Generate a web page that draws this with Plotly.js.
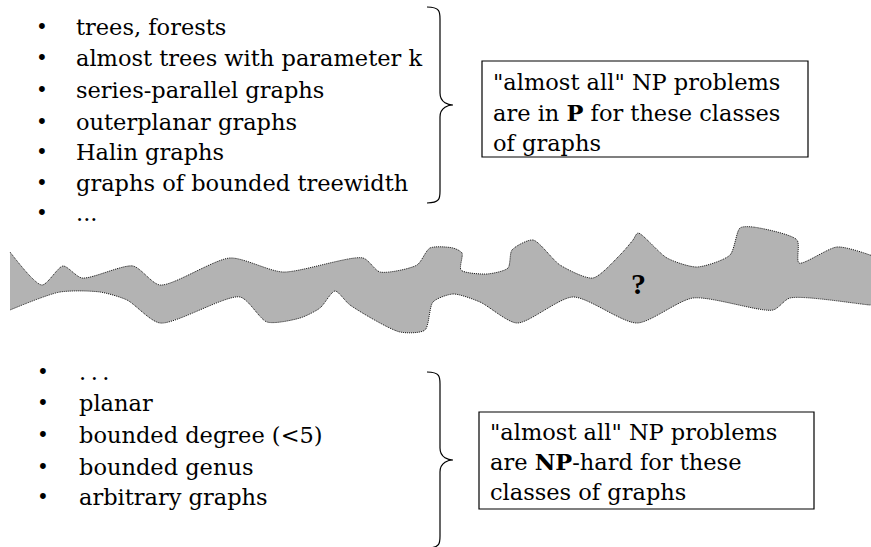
<!DOCTYPE html>
<html><head><meta charset="utf-8">
<script src="https://cdn.plot.ly/plotly-3.0.1.min.js"></script>
<style>html,body{margin:0;padding:0;background:#fff}#chart{width:871px;height:547px}</style>
</head><body><div id="chart"></div>
<script>
// ---- data ----
const topItems = ["trees, forests","almost trees with parameter k","series-parallel graphs","outerplanar graphs","Halin graphs","graphs of bounded treewidth","..."];
const topItemY = [27, 58, 90, 122, 152, 183, 213];
const bottomItems = [".&#8201;.&#8201;.","planar","bounded degree (&lt;5)","bounded genus","arbitrary graphs"];
const bottomItemY = [372, 403, 435, 467, 497];
const box1Lines = ['"almost all" NP problems','are in <b>P</b> for these classes','of graphs'];
const box1LineY = [82, 113, 143];
const box2Lines = ['"almost all" NP problems','are <b>NP</b>-hard for these','classes of graphs'];
const box2LineY = [432, 462, 492];
// band outline: top edge (left→right), bottom edge (right→left)
const bandTopX = [10, 42, 63, 82, 133, 160, 230, 283, 363, 380, 417, 430, 453, 462, 461, 487, 508, 512, 533, 560, 593, 620, 633, 638, 667, 697, 730, 740, 753, 797, 799, 837, 870, 885];
const bandTopY = [252, 285, 266, 278, 266, 285, 258, 272, 258, 272, 265, 248, 248, 253, 270, 274, 268, 250, 240, 265, 278, 255, 240, 233, 258, 267, 255, 228, 227, 240, 263, 247, 255, 262];
const bandBotX = [885, 870, 790, 773, 693, 637, 573, 517, 480, 453, 433, 425, 400, 350, 335, 320, 300, 267, 240, 160, 127, 100, 60, 10];
const bandBotY = [306, 305, 298, 310, 298, 323, 297, 323, 302, 294, 302, 330, 332, 305, 291, 308, 318, 322, 297, 323, 300, 292, 292, 310];

const FONT = "DejaVu Serif";
const FS = 22.5;
const ann = [];
topItems.forEach((t,i)=>{
  ann.push({x:42,y:topItemY[i],text:"•",showarrow:false,xanchor:"center",yanchor:"middle",font:{family:FONT,size:20,color:"#000"}});
  ann.push({x:74,y:topItemY[i],text:t,showarrow:false,xanchor:"left",yanchor:"middle",font:{family:FONT,size:FS,color:"#000"}});
});
bottomItems.forEach((t,i)=>{
  ann.push({x:43,y:bottomItemY[i],text:"•",showarrow:false,xanchor:"center",yanchor:"middle",font:{family:FONT,size:20,color:"#000"}});
  ann.push({x:77,y:bottomItemY[i],text:t,showarrow:false,xanchor:"left",yanchor:"middle",font:{family:FONT,size:FS,color:"#000"}});
});
box1Lines.forEach((t,i)=>ann.push({x:491,y:box1LineY[i],text:t,showarrow:false,xanchor:"left",yanchor:"middle",font:{family:FONT,size:FS,color:"#000"}}));
box2Lines.forEach((t,i)=>ann.push({x:488,y:box2LineY[i],text:t,showarrow:false,xanchor:"left",yanchor:"middle",font:{family:FONT,size:FS,color:"#000"}}));
ann.push({x:638,y:283,text:"<b>?</b>",showarrow:false,xanchor:"center",yanchor:"middle",font:{family:"Liberation Serif",size:30,color:"#000"}});

function brace(x0, xm, xt, y0, ym, y1){
  const r = 12;
  return `M ${x0} ${y0} C ${xm} ${y0}, ${xm} ${y0+r*0.4}, ${xm} ${y0+r} L ${xm} ${ym-r} C ${xm} ${ym-2}, ${xt-4} ${ym}, ${xt} ${ym} C ${xt-4} ${ym}, ${xm} ${ym+2}, ${xm} ${ym+r} L ${xm} ${y1-r} C ${xm} ${y1-r*0.4}, ${xm} ${y1}, ${x0} ${y1}`;
}
const shapes = [
  {type:"path",xref:"x",yref:"y",path:brace(427,440,453,7,105,203),line:{color:"#000",width:1.2}},
  {type:"path",xref:"x",yref:"y",path:brace(427,440,453,372,460,548),line:{color:"#000",width:1.2}},
  {type:"rect",xref:"x",yref:"y",x0:482,x1:808,y0:61,y1:157,line:{color:"#000",width:1.2},fillcolor:"rgba(0,0,0,0)"},
  {type:"rect",xref:"x",yref:"y",x0:479,x1:814,y0:412,y1:509,line:{color:"#000",width:1.2},fillcolor:"rgba(0,0,0,0)"}
];

const band = {
  x: bandTopX.concat(bandBotX),
  y: bandTopY.concat(bandBotY),
  mode:"lines", fill:"toself", fillcolor:"#b3b3b3",
  line:{color:"#111",width:1,dash:"1px,1px",shape:"spline",smoothing:0.7},
  hoverinfo:"skip", showlegend:false
};

Plotly.newPlot("chart",[band],{
  width:871,height:547,margin:{l:0,r:0,t:0,b:0},
  paper_bgcolor:"#fff",plot_bgcolor:"#fff",
  xaxis:{range:[0,871],visible:false,fixedrange:true},
  yaxis:{range:[547,0],visible:false,fixedrange:true},
  annotations:ann,shapes:shapes,showlegend:false
},{staticPlot:true,displayModeBar:false});
</script></body></html>
